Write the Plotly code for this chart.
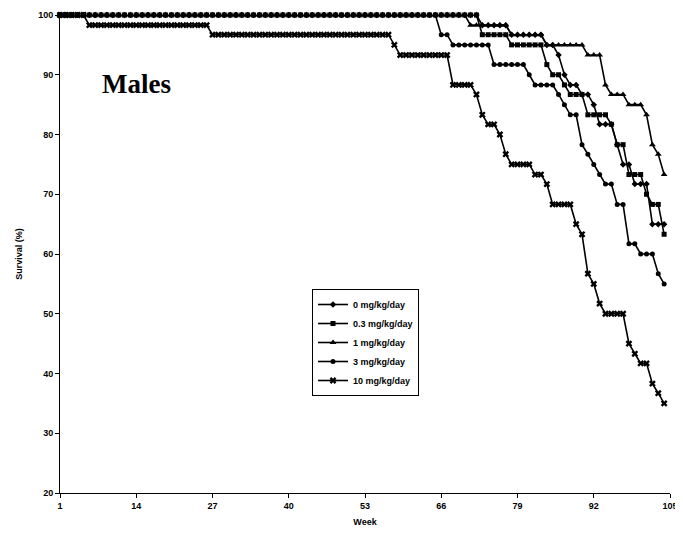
import plotly.graph_objects as go

weeks = list(range(1, 105))
tick_weeks = [1, 14, 27, 40, 53, 66, 79, 92, 105]
tick_labels = ["1", "14", "27", "40", "53", "66", "79", "92", "105"]
y_ticks = [20, 30, 40, 50, 60, 70, 80, 90, 100]

series_names = ["0 mg/kg/day", "0.3 mg/kg/day", "1 mg/kg/day", "3 mg/kg/day", "10 mg/kg/day"]

surv_0 = [
    100, 100, 100, 100, 100, 100, 100, 100, 100, 100, 100, 100, 100,
    100, 100, 100, 100, 100, 100, 100, 100, 100, 100, 100, 100, 100,
    100, 100, 100, 100, 100, 100, 100, 100, 100, 100, 100, 100, 100,
    100, 100, 100, 100, 100, 100, 100, 100, 100, 100, 100, 100, 100,
    100, 100, 100, 100, 100, 100, 100, 100, 100, 100, 100, 100, 100,
    100, 100, 100, 100, 100, 100, 100, 98.3, 98.3, 98.3, 98.3, 98.3, 96.7,
    96.7, 96.7, 96.7, 96.7, 96.7, 95, 95, 93.3, 90, 88.3, 88.3, 86.7, 86.7,
    85, 81.7, 81.7, 81.7, 78.3, 75, 75, 71.7, 71.7, 71.7, 65, 65, 65,
]

surv_03 = [
    100, 100, 100, 100, 100, 100, 100, 100, 100, 100, 100, 100, 100,
    100, 100, 100, 100, 100, 100, 100, 100, 100, 100, 100, 100, 100,
    100, 100, 100, 100, 100, 100, 100, 100, 100, 100, 100, 100, 100,
    100, 100, 100, 100, 100, 100, 100, 100, 100, 100, 100, 100, 100,
    100, 100, 100, 100, 100, 100, 100, 100, 100, 100, 100, 100, 100,
    100, 100, 100, 100, 100, 100, 100, 96.7, 96.7, 96.7, 96.7, 96.7, 95,
    95, 95, 95, 95, 95, 91.7, 90, 90, 88.3, 86.7, 86.7, 86.7, 83.3,
    83.3, 83.3, 83.3, 81.7, 78.3, 78.3, 73.3, 73.3, 73.3, 70, 68.3, 68.3, 63.3,
]

surv_1 = [
    100, 100, 100, 100, 100, 100, 100, 100, 100, 100, 100, 100, 100,
    100, 100, 100, 100, 100, 100, 100, 100, 100, 100, 100, 100, 100,
    100, 100, 100, 100, 100, 100, 100, 100, 100, 100, 100, 100, 100,
    100, 100, 100, 100, 100, 100, 100, 100, 100, 100, 100, 100, 100,
    100, 100, 100, 100, 100, 100, 100, 100, 100, 100, 100, 100, 100,
    100, 100, 100, 100, 100, 98.3, 98.3, 98.3, 98.3, 98.3, 98.3, 98.3, 96.7,
    96.7, 96.7, 96.7, 96.7, 96.7, 95, 95, 95, 95, 95, 95, 95, 93.3,
    93.3, 93.3, 88.3, 86.7, 86.7, 86.7, 85, 85, 85, 83.3, 78.3, 76.7, 73.3,
]

surv_3 = [
    100, 100, 100, 100, 100, 100, 100, 100, 100, 100, 100, 100, 100,
    100, 100, 100, 100, 100, 100, 100, 100, 100, 100, 100, 100, 100,
    100, 100, 100, 100, 100, 100, 100, 100, 100, 100, 100, 100, 100,
    100, 100, 100, 100, 100, 100, 100, 100, 100, 100, 100, 100, 100,
    100, 100, 100, 100, 100, 100, 100, 100, 100, 100, 100, 100, 100,
    96.7, 96.7, 95, 95, 95, 95, 95, 95, 95, 91.7, 91.7, 91.7, 91.7,
    91.7, 91.7, 90, 88.3, 88.3, 88.3, 88.3, 86.7, 85, 83.3, 83.3, 78.3, 76.7,
    75, 73.3, 71.7, 71.7, 68.3, 68.3, 61.7, 61.7, 60, 60, 60, 56.7, 55,
]

surv_10 = [
    100, 100, 100, 100, 100, 98.3, 98.3, 98.3, 98.3, 98.3, 98.3, 98.3, 98.3,
    98.3, 98.3, 98.3, 98.3, 98.3, 98.3, 98.3, 98.3, 98.3, 98.3, 98.3, 98.3, 98.3,
    96.7, 96.7, 96.7, 96.7, 96.7, 96.7, 96.7, 96.7, 96.7, 96.7, 96.7, 96.7, 96.7,
    96.7, 96.7, 96.7, 96.7, 96.7, 96.7, 96.7, 96.7, 96.7, 96.7, 96.7, 96.7, 96.7,
    96.7, 96.7, 96.7, 96.7, 96.7, 95, 93.3, 93.3, 93.3, 93.3, 93.3, 93.3, 93.3,
    93.3, 93.3, 88.3, 88.3, 88.3, 88.3, 86.7, 83.3, 81.7, 81.7, 80, 76.7, 75,
    75, 75, 75, 73.3, 73.3, 71.7, 68.3, 68.3, 68.3, 68.3, 65, 63.3, 56.7,
    55, 51.7, 50, 50, 50, 50, 45, 43.3, 41.7, 41.7, 38.3, 36.7, 35,
]

all_series = [surv_0, surv_03, surv_1, surv_3, surv_10]
symbols = ["diamond", "square", "triangle-up", "circle", "x"]
msizes = [5, 5, 6, 5, 6]

fig = go.Figure()
for name, vals, sym, ms in zip(series_names, all_series, symbols, msizes):
    fig.add_trace(go.Scatter(
        x=weeks, y=vals, name=name, mode="lines+markers",
        line=dict(color="black", width=1.6),
        marker=dict(symbol=sym, size=ms, color="black", line=dict(width=0)),
        cliponaxis=False,
    ))

tick_font = dict(family="Liberation Sans", size=9, color="black", weight="bold")

# the page adds an 8 px body margin, so the figure is drawn 8 px smaller
fig.update_layout(
    width=675, height=525,
    margin=dict(l=52, r=13, t=7, b=40),
    paper_bgcolor="white", plot_bgcolor="white",
    showlegend=True,
    legend=dict(
        x=(312 - 60) / 610, y=1 - (289 - 15) / 478, xanchor="left", yanchor="top",
        bordercolor="black", borderwidth=1, bgcolor="white",
        font=dict(family="Liberation Sans", size=9, color="black", weight="bold"),
        tracegroupgap=0, itemwidth=30,
    ),
    xaxis=dict(
        range=[1, 105], tickmode="array", tickvals=tick_weeks, ticktext=tick_labels,
        showgrid=False, zeroline=False, showline=True, linecolor="black", linewidth=1,
        ticks="outside", ticklen=4, tickcolor="black", tickfont=tick_font,
        automargin=False,
        title=dict(text="Week", font=tick_font, standoff=8),
    ),
    yaxis=dict(
        range=[20, 100], tickmode="array", tickvals=y_ticks,
        showgrid=False, zeroline=False, showline=True, linecolor="black", linewidth=1,
        ticks="outside", ticklen=4, tickcolor="black", tickfont=tick_font,
        automargin=False,
        title=dict(text="Survival (%)", font=tick_font, standoff=14),
    ),
    annotations=[dict(
        text="<b>Males</b>", x=(136 - 60) / 610, y=1 - (84 - 15) / 478,
        xref="paper", yref="paper", xanchor="center", yanchor="middle", showarrow=False,
        font=dict(family="Liberation Serif", size=27, color="black"),
    )],
)

fig.write_html("out.html")
